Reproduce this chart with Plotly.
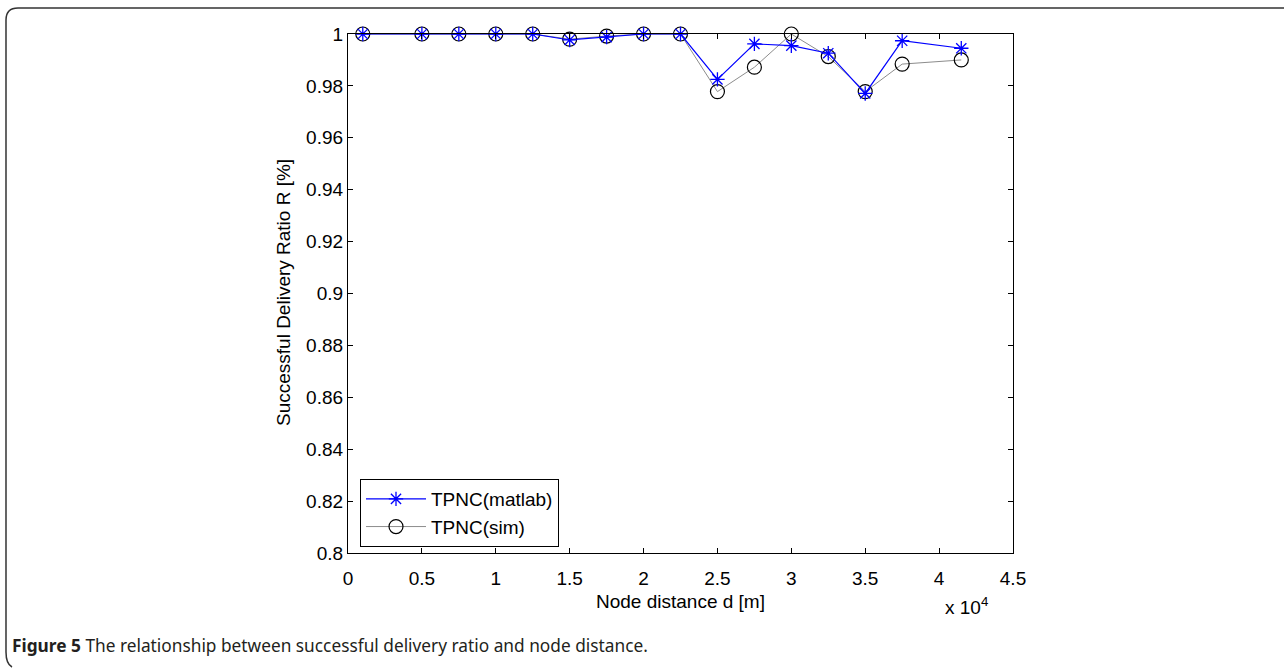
import plotly.graph_objects as go

# Data (x in metres)
distance = [1000, 5000, 7500, 10000, 12500, 15000, 17500, 20000, 22500,
            25000, 27500, 30000, 32500, 35000, 37500, 41500]
ratio_matlab = [1.0, 1.0, 1.0, 1.0, 1.0, 0.9977, 0.9988, 1.0, 1.0,
                0.9825, 0.9962, 0.9955, 0.9926, 0.9771, 0.9974, 0.9945]
ratio_sim = [1.0, 1.0, 1.0, 1.0, 1.0, 0.9980, 0.9992, 1.0, 1.0,
             0.9778, 0.9872, 1.0, 0.9913, 0.9778, 0.9884, 0.9900]

x_tickvals = [0, 5000, 10000, 15000, 20000, 25000, 30000, 35000, 40000, 45000]
x_ticktext = ["0", "0.5", "1", "1.5", "2", "2.5", "3", "3.5", "4", "4.5"]
y_tickvals = [0.8, 0.82, 0.84, 0.86, 0.88, 0.9, 0.92, 0.94, 0.96, 0.98, 1.0]
y_ticktext = ["0.8", "0.82", "0.84", "0.86", "0.88", "0.9", "0.92", "0.94", "0.96", "0.98", "1"]

FONT = "Liberation Sans, Arial, Helvetica, sans-serif"

W, H = 1284, 668
L, R, T, B = 348, 1013, 34, 553
pw, ph = R - L, B - T


def pxx(xp):
    return (xp - L) / pw


def pxy(yp):
    return (B - yp) / ph


fig = go.Figure()
fig.add_trace(go.Scatter(
    x=distance, y=ratio_sim, name="TPNC(sim)", mode="lines+markers",
    line=dict(color="#8c8c8c", width=1),
    marker=dict(symbol="circle-open", size=14, color="black", line=dict(width=1.2, color="black")),
    cliponaxis=False, legendrank=2,
))
fig.add_trace(go.Scatter(
    x=distance, y=ratio_matlab, name="TPNC(matlab)", mode="lines+markers",
    line=dict(color="#0000ff", width=1.2),
    marker=dict(symbol="asterisk-open", size=12, color="#0000ff", line=dict(width=1.3, color="#0000ff")),
    cliponaxis=False, legendrank=1,
))

frame_path = (f"M {pxx(1284):.5f},{pxy(8):.5f} L {pxx(18):.5f},{pxy(8):.5f} "
              f"Q {pxx(6):.5f},{pxy(8):.5f} {pxx(6):.5f},{pxy(20):.5f} "
              f"L {pxx(6):.5f},{pxy(652):.5f} Q {pxx(6):.5f},{pxy(664):.5f} {pxx(12):.5f},{pxy(667):.5f}")

fig.update_layout(
    width=W, height=H,
    margin=dict(l=L, r=W - R, t=T, b=H - B, autoexpand=False),
    paper_bgcolor="white", plot_bgcolor="white",
    font=dict(family=FONT, size=19, color="black"),
    showlegend=True,
    legend=dict(
        x=pxx(360), y=pxy(547), xanchor="left", yanchor="bottom",
        bordercolor="black", borderwidth=1, bgcolor="white",
        font=dict(family=FONT, size=19, color="black"),
        itemwidth=60, tracegroupgap=0,
    ),
    xaxis=dict(
        range=[0, 45000], tickvals=x_tickvals, ticktext=x_ticktext,
        ticks="inside", ticklen=5, tickcolor="black", tickwidth=1,
        showline=True, linecolor="black", linewidth=1.3, mirror="ticks",
        showgrid=False, zeroline=False, tickfont=dict(size=19),
        ticklabelstandoff=8, automargin=False,
    ),
    yaxis=dict(
        range=[0.8, 1.0], tickvals=y_tickvals, ticktext=y_ticktext,
        ticks="inside", ticklen=5, tickcolor="black", tickwidth=1,
        showline=True, linecolor="black", linewidth=1.3, mirror="ticks",
        showgrid=False, zeroline=False, tickfont=dict(size=19), automargin=False,
    ),
    annotations=[
        dict(text="Node distance d [m]", x=pxx(680), y=pxy(601), xref="paper", yref="paper",
             xanchor="center", yanchor="middle", showarrow=False, font=dict(size=19)),
        dict(text="Successful Delivery Ratio R [%]", x=pxx(283), y=pxy(293), xref="paper", yref="paper",
             xanchor="center", yanchor="middle", textangle=-90, showarrow=False, font=dict(size=19)),
        dict(text="x 10<sup>4</sup>", x=pxx(966), y=pxy(606), xref="paper", yref="paper",
             xanchor="center", yanchor="middle", showarrow=False, font=dict(size=19)),
        dict(text="<b>Figure 5</b> The relationship between successful delivery ratio and node distance.",
             x=pxx(10), y=pxy(645), xref="paper", yref="paper", xanchor="left", yanchor="middle",
             showarrow=False, font=dict(family="Noto Sans, sans-serif", size=17.3, color="#231f20")),
    ],
    shapes=[dict(type="path", xref="paper", yref="paper", path=frame_path,
                 line=dict(color="#333333", width=1.5), layer="below")],
)

fig.write_html("out.html", config={"displayModeBar": False},
               post_script="document.body.style.margin='0';document.body.style.padding='0';")
